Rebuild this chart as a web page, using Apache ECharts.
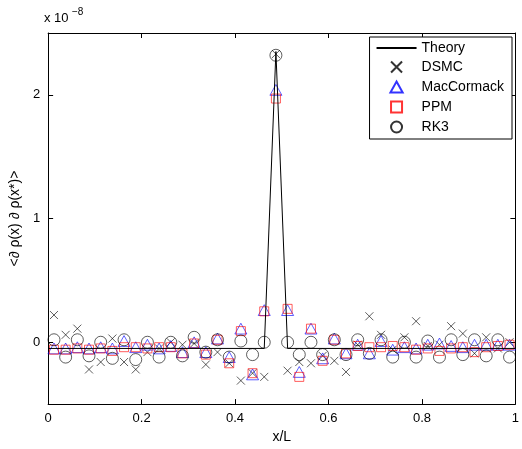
<!DOCTYPE html>
<html>
<head>
<meta charset="utf-8">
<script src="https://cdn.jsdelivr.net/npm/echarts@6/dist/echarts.min.js"></script>
<style>html,body{margin:0;padding:0;background:#fff}#c{width:522px;height:449px}</style>
</head>
<body>
<div id="c"></div>
<script>
// values in units of 1e-8, sampled at x = 0.0125 + 0.025*k
var theoryX = [0, 0.4625, 0.4875, 0.5125, 1];
var theoryY = [-0.05, -0.05, 2.35, -0.05, -0.05];
var dsmc = [0.22, 0.06, 0.11, -0.22, -0.16, 0.03, -0.16, -0.22, -0.08, -0.05,
    0, -0.02, -0.01, -0.18, -0.08, -0.17, -0.31, -0.25, -0.28, 2.33,
    -0.23, -0.16, -0.17, -0.11, -0.15, -0.24, -0.02, 0.21, 0.06, -0.06,
    0.04, 0.17, -0.03, -0.02, 0.13, 0.07, -0.09, 0.04, -0.05, 0];
var macCormack = [-0.05, -0.05, -0.04, -0.05, -0.04, -0.05, 0.01, -0.04, -0.02, -0.05,
    -0.03, -0.08, 0, -0.08, 0.03, -0.12, 0.11, -0.26, 0.26, 2.04,
    0.26, -0.24, 0.11, -0.13, 0.03, -0.09, -0.02, -0.09, 0.01, -0.06,
    -0.04, -0.05, -0.02, -0.01, -0.03, -0.04, -0.02, -0.02, -0.02, -0.02];
var ppm = [-0.06, -0.06, -0.05, -0.06, -0.05, -0.07, -0.04, -0.04, -0.05, -0.04,
    -0.04, -0.09, -0.01, -0.1, 0.02, -0.17, 0.09, -0.25, 0.25, 1.97,
    0.27, -0.28, 0.11, -0.15, 0.02, -0.09, -0.03, -0.04, -0.04, -0.03,
    -0.04, -0.06, -0.05, -0.07, -0.05, -0.04, -0.08, -0.04, -0.03, -0.02];
var rk3 = [0.02, -0.12, 0.02, -0.11, 0, -0.13, 0.02, -0.14, 0, -0.12,
    0, -0.11, 0.04, -0.08, 0.02, -0.12, 0.01, -0.1, 0, 2.32,
    0, -0.1, 0, -0.1, 0.02, -0.1, 0.02, -0.09, 0.02, -0.12,
    0, -0.12, 0.01, -0.12, 0.02, -0.1, 0.02, -0.11, 0.02, -0.12];

function pts(vals) {
    return vals.map(function (v, k) { return [0.0125 + 0.025 * k, v]; });
}

var chart = echarts.init(document.getElementById('c'));
var font = 'Liberation Sans';
var cross = 'path://M0,0L10,10M10,0L0,10';
var tri = 'path://M5,0L10,9L0,9Z';
var sq = 'path://M0,0H10V10H0Z';
var circ = 'path://M10,5A5,5,0,1,1,0,5A5,5,0,1,1,10,5Z';
var line = { show: true, onZero: false, lineStyle: { color: '#000' } };
var ticksY = { inside: true, length: 5, lineStyle: { color: '#000' }, customValues: [0, 1, 2] };
var ticksX = { inside: true, length: 5, lineStyle: { color: '#000' } };
function hollow(c) { return { color: 'none', borderColor: c, borderWidth: 0.8 }; }
chart.setOption({
    animation: false,
    textStyle: { fontFamily: font },
    grid: { left: 42, right: 2, top: 33, bottom: 39 },
    legend: {
        right: 10, top: 37, orient: 'vertical', itemGap: 4,
        backgroundColor: '#fff', borderColor: '#000', borderWidth: 1, borderRadius: 0, padding: [4, 8, 4, 6],
        itemWidth: 40, itemHeight: 11,
        textStyle: { fontSize: 14, color: '#000', fontFamily: font },
        data: [{ name: 'Theory', itemStyle: { opacity: 0 } }, 'DSMC', 'MacCormack', 'PPM', 'RK3']
    },
    xAxis: [
        { type: 'value', min: 0, max: 1, interval: 0.2, name: 'x/L', nameLocation: 'middle', nameGap: 24,
            nameTextStyle: { fontSize: 14, color: '#000' },
            axisLine: line, axisTick: ticksX, splitLine: { show: false },
            axisLabel: { fontSize: 13, color: '#000' } },
        { type: 'value', min: 0, max: 1, interval: 0.2, position: 'top',
            axisLine: line, axisTick: ticksX, splitLine: { show: false },
            axisLabel: { show: false } }
    ],
    yAxis: [
        { type: 'value', min: -0.5, max: 2.5, name: '<\u2202 \u03c1(x) \u2202 \u03c1(x*)>', nameLocation: 'middle', nameGap: 26,
            nameTextStyle: { fontSize: 14, color: '#000' },
            axisLine: line, axisTick: ticksY, splitLine: { show: false },
            axisLabel: { fontSize: 13, color: '#000', customValues: [0, 1, 2] } },
        { type: 'value', min: -0.5, max: 2.5, position: 'right',
            axisLine: line, axisTick: ticksY, splitLine: { show: false },
            axisLabel: { show: false } }
    ],
    graphic: [{
        type: 'text', left: 44, top: 12,
        style: { text: 'x 10', fontSize: 13, fill: '#000', fontFamily: font }
    }, {
        type: 'text', left: 72, top: 7,
        style: { text: '\u22128', fontSize: 10, fill: '#000', fontFamily: font }
    }],
    series: [{
        name: 'Theory', type: 'line', symbol: 'none',
        lineStyle: { color: '#000', width: 1 }, itemStyle: { color: '#000' },
        data: theoryX.map(function (x, i) { return [x, theoryY[i]]; })
    }, {
        name: 'DSMC', type: 'scatter', symbol: cross, symbolSize: 8, symbolKeepAspect: true,
        itemStyle: hollow('#000'), data: pts(dsmc)
    }, {
        name: 'MacCormack', type: 'scatter', symbol: tri, symbolSize: 12, symbolKeepAspect: true,
        itemStyle: hollow('#0000ff'), data: pts(macCormack)
    }, {
        name: 'PPM', type: 'scatter', symbol: sq, symbolSize: 9, symbolKeepAspect: true,
        itemStyle: hollow('#ff0000'), data: pts(ppm)
    }, {
        name: 'RK3', type: 'scatter', symbol: circ, symbolSize: 12, symbolKeepAspect: true,
        itemStyle: hollow('#000'), data: pts(rk3)
    }]
});
</script>
</body>
</html>
